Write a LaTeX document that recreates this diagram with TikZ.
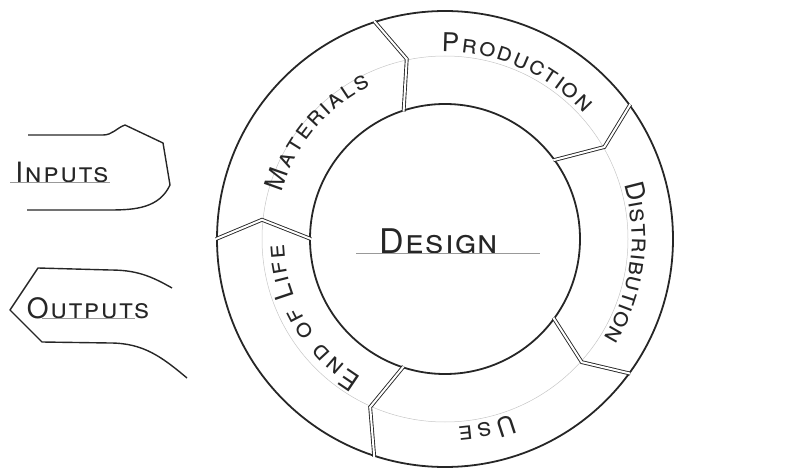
\documentclass[tikz,border=0pt]{standalone}
\usepackage{fontspec}
\setmainfont{TeX Gyre Heros}
\usetikzlibrary{decorations.text}
\newcommand{\ringfont}{\fontsize{26}{26}\selectfont\scshape}
\tikzstyle{ringline} = [draw=black!85, line width=1.8pt]
\tikzstyle{divider} = [draw=black!85, line width=0.9pt, double=white, double distance=2pt]
\tikzstyle{guide} = [draw=black!22, line width=0.5pt]
\tikzstyle{tab} = [draw=black!85, line width=1.4pt, line join=round]
\tikzstyle{caption} = [font=\fontsize{28}{28}\selectfont\scshape\addfontfeature{LetterSpace=6}, anchor=base, inner sep=0pt, text=black!85]
\tikzstyle{ringlabel} = [decorate, decoration={text effects along path, text effects/.cd, fit text to path, characters={text along path, font=\ringfont, text=black!85}}]

\begin{document}
\begin{tikzpicture}[x=1pt, y=1pt]

\useasboundingbox (0,0) rectangle (785,475);

\node (inputs) [caption] at (62,293) {Inputs};
\node (outputs) [caption] at (88,157) {Outputs};
\node (design) [caption, font=\fontsize{34}{34}\selectfont\scshape\addfontfeature{LetterSpace=4}] at (439,222) {Design};

\draw [guide, draw=black!40] (10,293) -- (110,293);
\draw [guide, draw=black!40] (42,157) -- (135,157);
\draw [guide, draw=black!40] (356,222) -- (540,222);

\draw [tab] (28,340) -- (103,340) to[out=0,in=200] (125,350) -- (163,332) -- (170,290) to[out=-115,in=0] (110,265) -- (27,265);
\draw [tab] (172,187) to[out=150,in=0] (110,205) -- (38,207) -- (10,165) -- (42,133) -- (110,132) to[out=0,in=140] (187,97);

\begin{scope}[shift={(445,236)}]
\coordinate (hub) at (0,0);
\draw [guide] (hub) circle[radius=183];
\draw [ringline] (hub) circle[radius=228];
\draw [ringline] (hub) circle[radius=135];

\draw [divider] (180:134) -- (174:184) -- (180:229);
\draw [divider] (108:134) -- (102:184) -- (108:229);
\draw [divider] (36:134) -- (30:184) -- (36:229);
\draw [divider] (-36:134) -- (-42:184) -- (-36:229);
\draw [divider] (-108:134) -- (-114:184) -- (-108:229);

\path [ringlabel, decoration={text={Materials}}] (164:170) arc[start angle=164, end angle=116, radius=170];
\path [ringlabel, decoration={text={Production}}] (91:187) arc[start angle=91, end angle=42, radius=187];
\path [ringlabel, decoration={text={Distribution}}] (17:187) arc[start angle=17, end angle=-32, radius=187];
\path [ringlabel, decoration={text={Use}}] (-69:188) arc[start angle=-69, end angle=-86, radius=188];
\path [ringlabel, decoration={text={End of Life}}] (-121:161) arc[start angle=-121, end angle=-178, radius=161];
\end{scope}

\end{tikzpicture}
\end{document}
